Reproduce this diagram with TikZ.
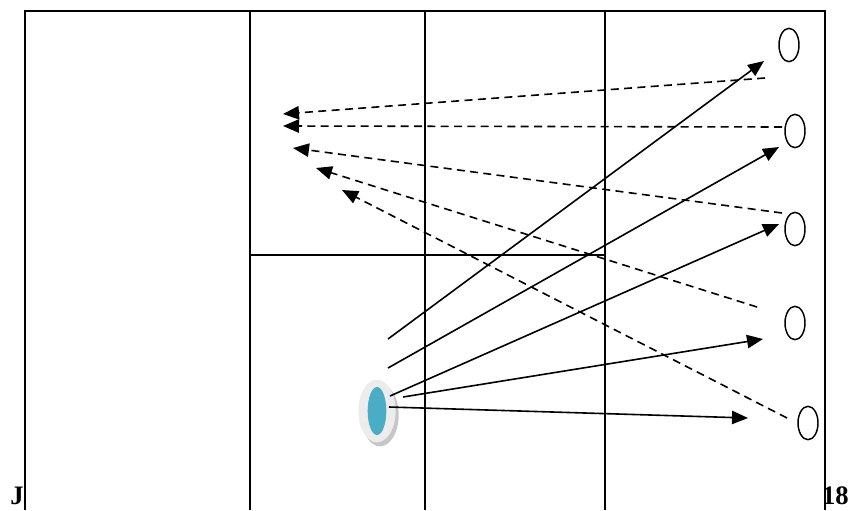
\documentclass[tikz,border=0pt]{standalone}
\usepackage{fontspec}
\setmainfont{Liberation Serif}
\usepackage{xcolor}
\usetikzlibrary{arrows.meta, shapes.geometric}
\definecolor{myBlue}{RGB}{75,172,198}
\definecolor{myRing}{RGB}{236,236,236}

\begin{document}
\begin{tikzpicture}[x=0.75pt, y=-0.75pt,
  grid/.style={line width=1.5pt},
  ring/.style={draw, ellipse, line width=1.1pt, inner sep=0pt, minimum width=15pt, minimum height=25pt},
  send/.style={line width=1.2pt, -{Triangle[length=12pt, width=10pt]}},
  back/.style={send, dash pattern=on 6pt off 4pt},
  corner/.style={font=\fontsize{20}{20}\selectfont\bfseries, inner sep=0pt},
]
  \useasboundingbox (0,0) rectangle (852,510);

  % frame and cells
  \draw[grid] (25,510) -- (25,11) -- (825,11) -- (825,510);
  \draw[grid] (250,11) -- (250,510);
  \draw[grid] (425,11) -- (425,510);
  \draw[grid] (605,11) -- (605,510);
  \draw[grid] (250,255) -- (605,255);

  \node[corner, anchor=base east] (pg) at (24,504) {J};
  \node[corner, anchor=base east] (yr) at (849,504) {18};

  % source
  \node[ellipse, fill=gray!45, inner sep=0pt, minimum width=28pt, minimum height=47pt] (shd) at (380,415) {};
  \node[ellipse, fill=myRing, inner sep=0pt, minimum width=28pt, minimum height=47pt] (src) at (377,411) {};
  \node[ellipse, fill=myBlue, inner sep=0pt, minimum width=14pt, minimum height=36pt] (core) at (src) {};

  % targets
  \node[ring] (t1) at (789,45) {};
  \node[ring] (t2) at (795,131) {};
  \node[ring] (t3) at (795,229) {};
  \node[ring] (t4) at (795,323) {};
  \node[ring] (t5) at (808,423) {};

  % outgoing
  \coordinate (s1) at (388,339);  \coordinate (h1) at (764,61);
  \coordinate (s2) at (388,368);  \coordinate (h2) at (779,147);
  \coordinate (s3) at (390,396);  \coordinate (h3) at (779,224);
  \coordinate (s4) at (403,397);  \coordinate (h4) at (763,339);
  \coordinate (s5) at (389,407);  \coordinate (h5) at (748,418);
  \draw[send] (s1) -- (h1);
  \draw[send] (s2) -- (h2);
  \draw[send] (s3) -- (h3);
  \draw[send] (s4) -- (h4);
  \draw[send] (s5) -- (h5);

  % returning
  \coordinate (r1) at (765,78);   \coordinate (e1) at (283,114);
  \coordinate (r2) at (782,127);  \coordinate (e2) at (283,126);
  \coordinate (r3) at (782,213);  \coordinate (e3) at (293,148);
  \coordinate (r4) at (757,307);  \coordinate (e4) at (316,168);
  \coordinate (r5) at (787,418);  \coordinate (e5) at (342,190);
  \draw[back] (r1) -- (e1);
  \draw[back] (r2) -- (e2);
  \draw[back] (r3) -- (e3);
  \draw[back] (r4) -- (e4);
  \draw[back] (r5) -- (e5);
\end{tikzpicture}
\end{document}
